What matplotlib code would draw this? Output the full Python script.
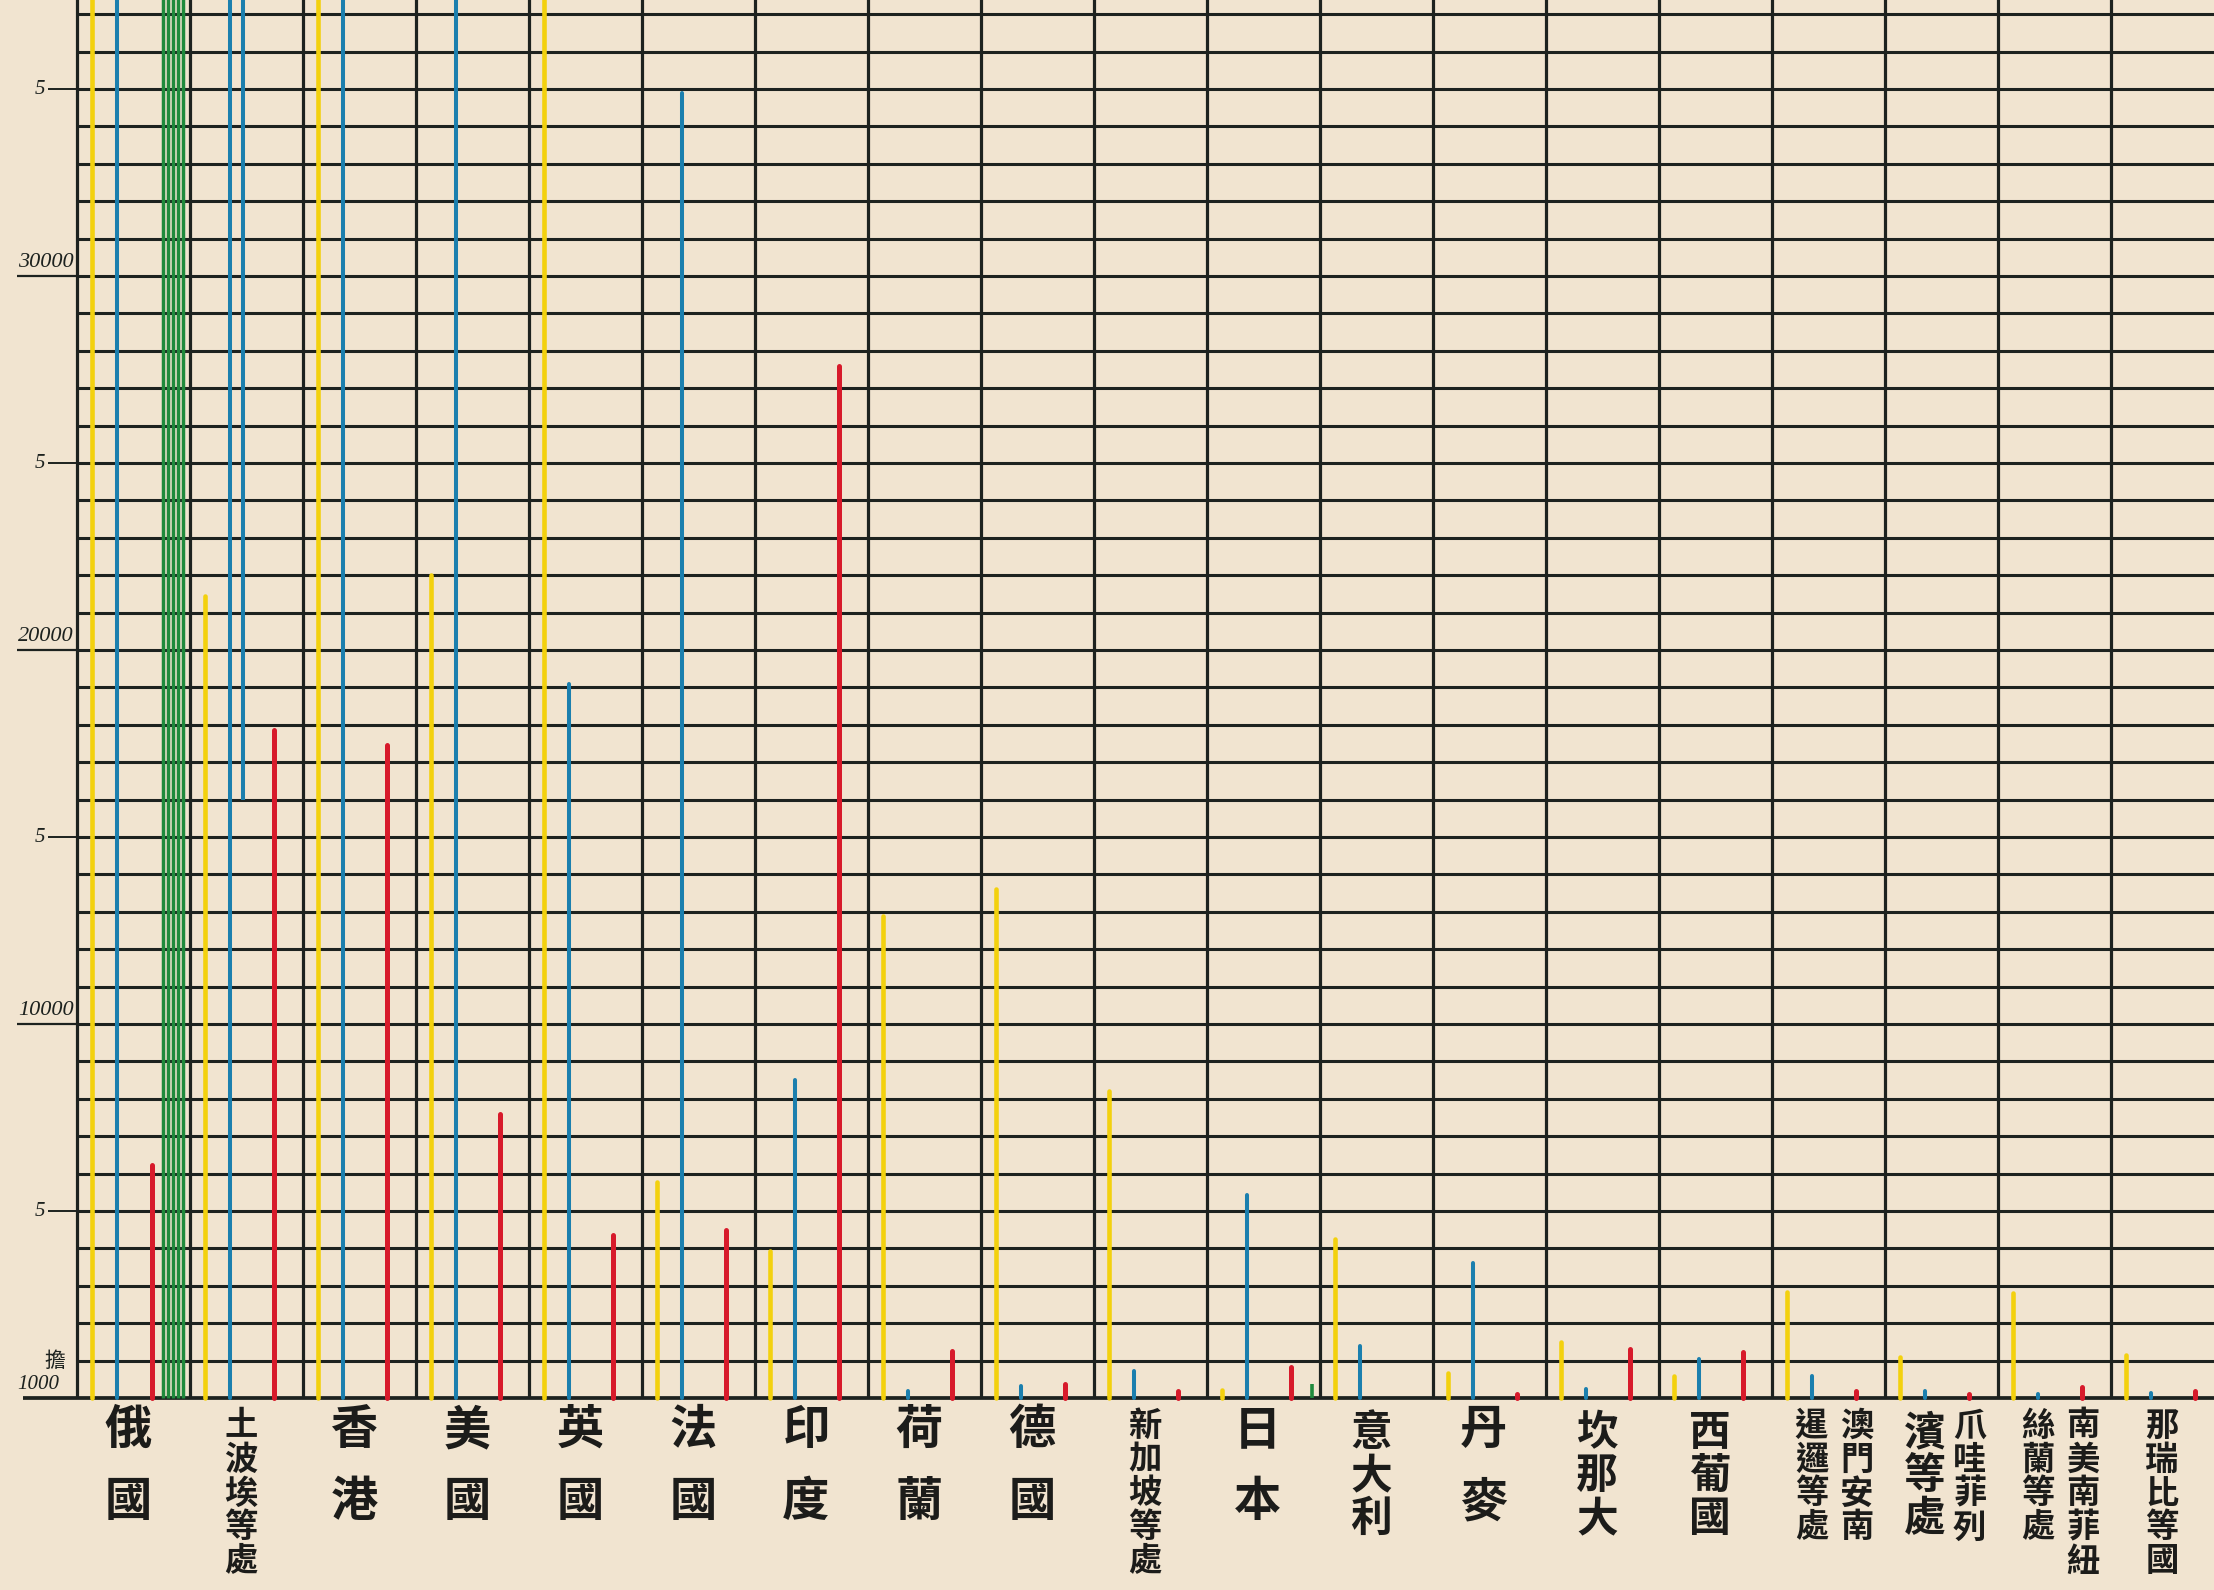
import matplotlib
matplotlib.use("Agg")
import matplotlib.pyplot as plt
import numpy as np

# ── Data: thousands of piculs (擔) per destination ──────────
countries = ["俄國", "土波埃等處", "香港", "美國", "英國", "法國", "印度", "荷蘭",
             "德國", "新加坡等處", "日本", "意大利", "丹麥", "坎那大", "西葡國",
             "澳門安南暹邏等處", "爪哇菲列濱等處", "南美南菲紐絲蘭等處", "那瑞比等國"]

# how each name is written under its column, left text column first
label_columns = [["俄國"], ["土波埃等處"], ["香港"], ["美國"], ["英國"], ["法國"],
                 ["印度"], ["荷蘭"], ["德國"], ["新加坡等處"], ["日本"], ["意大利"],
                 ["丹麥"], ["坎那大"], ["西葡國"], ["暹邏等處", "澳門安南"],
                 ["濱等處", "爪哇菲列"], ["絲蘭等處", "南美南菲紐"], ["那瑞比等國"]]

OFF = 40.0  # runs off the top of the sheet

yellow = [OFF, 21.45, OFF, 22.0, OFF, 5.78, 3.93, 12.9, 13.6, 8.2,
          0.22, 4.25, 0.68, 1.5, 0.58, 2.83, 1.1, 2.8, 1.15]
blue = [OFF, OFF, OFF, OFF, 19.1, 34.9, 8.5, 0.18, 0.33, 0.72,
        5.44, 1.39, 3.6, 0.25, 1.04, 0.6, 0.2, 0.1, 0.14]
red = [6.23, 17.85, 17.45, 7.6, 4.36, 4.5, 27.6, 1.27, 0.38, 0.18,
       0.84, 0.0, 0.1, 1.3, 1.24, 0.18, 0.12, 0.3, 0.2]
green = [OFF, 0, 0, 0, 0, 0, 0, 0, 0, 0,
         0.37, 0, 0, 0, 0, 0, 0, 0, 0]
green_strokes = [5, 0, 0, 0, 0, 0, 0, 0, 0, 0,
                 1, 0, 0, 0, 0, 0, 0, 0, 0]
# blue carried down again from the top edge (overflow), ends at this value
blue_carry = [0, 16.0, 0, 0, 0, 0, 0, 0, 0, 0,
              0, 0, 0, 0, 0, 0, 0, 0, 0]

y_major = [10, 20, 30]
y_minor = [5, 15, 25, 35]

# ── Sheet geometry (px in a 2214x1590 sheet) ─────────────────
W, H = 2214, 1590
X0, COL = 77, 113.0          # left rule, column width
Y0, ROW = 1398, 37.4         # base line, 1000 piculs

PAPER = "#f1e4d0"
INK = "#1d221f"
C_Y, C_B, C_R, C_G = "#f3d10e", "#1b7fae", "#d71a2b", "#1f8a3c"
CJK = ["Noto Sans CJK TC", "DejaVu Sans"]


def px_y(p):
    return (Y0 - p) / ROW


fig = plt.figure(figsize=(W / 100, H / 100), dpi=100, facecolor=PAPER)
ax = fig.add_axes([0, 0, 1, 1])
ax.set_facecolor(PAPER)
ax.set_xlim(-X0 / COL, (W - X0) / COL)
ax.set_ylim(px_y(H), px_y(0))
ax.axis("off")

n = len(countries)
xs = np.arange(n)

# ── grid ─────────────────────────────────────────────────────
ax.hlines(np.arange(1, 38), 0, n + 1, color=INK, lw=2.2, zorder=2)
ax.vlines(np.arange(0, n + 1), 0, 40, color=INK, lw=2.3, zorder=2)
ax.hlines(0, -0.48, n + 1, color=INK, lw=2.7, zorder=2)

# ── bars (pen strokes) ───────────────────────────────────────
bundle = np.array(green_strokes) > 1
red_off = np.where(bundle, 0.66, 0.74)
for vals, off, color, lw in [(yellow, 0.13, C_Y, 3.3), (blue, 0.35, C_B, 2.9),
                              (red, red_off, C_R, 3.6)]:
    v = np.array(vals)
    x = xs + off
    m = v > 0
    lc = ax.vlines(x[m], 0, v[m], color=color, lw=lw, zorder=3)
    lc.set_capstyle("round")

carry = np.array(blue_carry)
m = carry > 0
ax.vlines(xs[m] + 0.47, carry[m], 40, color=C_B, lw=2.9, zorder=3)

for i, (g, k) in enumerate(zip(green, green_strokes)):
    if k == 1:
        ax.vlines(i + 0.93, 0, g, color=C_G, lw=2.6, zorder=3)
    elif k > 1:
        ax.vlines(i + 0.76 + 0.044 * np.arange(k), 0, g, color=C_G, lw=2.5, zorder=3)

# ── left scale ───────────────────────────────────────────────
num = dict(family="Liberation Serif", style="italic", color=INK)
for v in y_minor:
    ax.hlines(v, -0.26, 0, color=INK, lw=1.4, zorder=2)
    ax.text(-0.28, v, "5", ha="right", va="center", fontsize=15, **num)
for v in y_major:
    ax.hlines(v, -0.53, 0, color=INK, lw=1.6, zorder=2)
    ax.text(-0.52, v + 0.12, f"{v * 1000}", ha="left", va="bottom", fontsize=16, **num)
ax.text(-0.2, 1.0, "擔", ha="center", va="center", fontsize=15, family=CJK, color=INK)
ax.text(-0.53, 0.35, "1000", ha="left", va="center", fontsize=15, **num)

# ── country names, written top to bottom ─────────────────────
for i, cols in enumerate(label_columns):
    offs = [0.45] if len(cols) == 1 else [0.35, 0.75]
    for off, txt in zip(offs, cols):
        k = len(txt)
        if k == 2:
            fs, pitch, first = 34, 72, 1430
        elif k == 3:
            fs, pitch, first = 30, 43, 1433
        else:
            fs, pitch, first = 24, 34, 1426
        for j, ch in enumerate(txt):
            ax.text(i + off, px_y(first + j * pitch), ch, ha="center", va="center",
                    fontsize=fs, family=CJK, fontweight="bold", color="#1c1c1a")

fig.savefig("out.png", dpi=100, facecolor=PAPER)
plt.close(fig)
